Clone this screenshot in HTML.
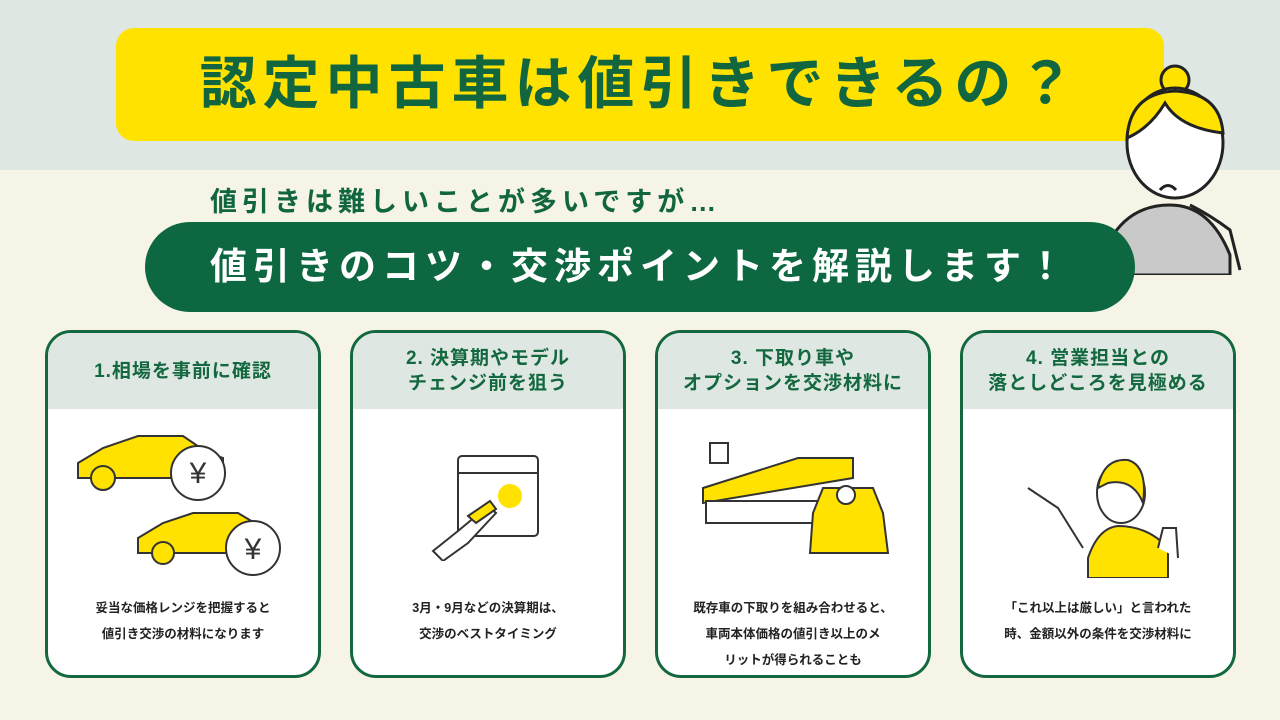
<!DOCTYPE html>
<html><head><meta charset="utf-8"><style>
*{margin:0;padding:0;box-sizing:border-box}
body{width:1280px;height:720px;overflow:hidden;background:#f6f4e7;font-family:"Liberation Sans","Noto Sans CJK JP",sans-serif;position:relative}
.band{position:absolute;left:0;top:0;width:1280px;height:170px;background:#dfe7e3}
.banner{position:absolute;left:116px;top:28px;width:1048px;height:113px;background:#ffe200;border-radius:18px;text-align:center;line-height:113px;font-size:57px;font-weight:bold;color:#12663f;letter-spacing:6px}
.sub{position:absolute;left:210px;top:180px;font-size:27px;font-weight:bold;color:#12663f;letter-spacing:5px}
.pill{position:absolute;left:145px;top:222px;width:990px;height:90px;background:#0d6842;border-radius:45px;text-align:center;line-height:90px;color:#fff;font-size:37px;font-weight:bold;letter-spacing:6px}
.card{position:absolute;top:330px;width:276px;height:348px;border:3px solid #13683f;border-radius:26px;background:#fff;overflow:hidden}
.hd{height:76px;background:#dfe7e3;display:flex;align-items:center;justify-content:center;text-align:center;color:#13683f;font-weight:bold;font-size:19px;line-height:25px;letter-spacing:1px}
.bd{position:absolute;left:0;width:100%;top:262px;text-align:center;font-size:12.5px;line-height:26px;color:#222;font-weight:bold}
svg{position:absolute}
</style></head><body>
<div class="band"></div>
<div class="banner">認定中古車は値引きできるの？</div>
<svg style="left:1090px;top:55px" width="160" height="220" viewBox="0 0 160 220">
<path d="M20 185 Q40 150 80 150 Q120 150 140 200 L140 220 L10 220 Z" fill="#c9c9c9" stroke="#222" stroke-width="3"/>
<circle cx="85" cy="25" r="14" fill="#ffe200" stroke="#222" stroke-width="3"/>
<ellipse cx="85" cy="88" rx="48" ry="55" fill="#fff" stroke="#222" stroke-width="3"/>
<path d="M37 83 Q40 38 85 36 Q130 38 133 78 Q90 73 75 48 Q60 73 37 83Z" fill="#ffe200" stroke="#222" stroke-width="3"/>
<path d="M70 135 Q78 126 86 135" fill="none" stroke="#222" stroke-width="3"/>
<path d="M100 150 Q120 160 140 175 L150 215" fill="none" stroke="#222" stroke-width="3"/>
</svg>
<div class="sub">値引きは難しいことが多いですが…</div>
<div class="pill">値引きのコツ・交渉ポイントを解説します！</div>

<div class="card" style="left:45px"><div class="hd">1.相場を事前に確認</div>
<svg style="left:25px;top:95px" width="230" height="150">
<path d="M5 35 L30 20 L65 8 L110 8 L135 25 L150 30 L150 50 L5 50Z" fill="#ffe200" stroke="#333" stroke-width="2"/>
<circle cx="30" cy="50" r="12" fill="#ffe200" stroke="#333" stroke-width="2"/>
<circle cx="125" cy="45" r="27" fill="#fff" stroke="#333" stroke-width="2"/><text x="125" y="55" text-anchor="middle" font-size="30" fill="#333">¥</text>
<path d="M65 110 L90 95 L120 85 L165 85 L190 100 L200 105 L200 125 L65 125Z" fill="#ffe200" stroke="#333" stroke-width="2"/>
<circle cx="90" cy="125" r="11" fill="#ffe200" stroke="#333" stroke-width="2"/>
<circle cx="180" cy="120" r="27" fill="#fff" stroke="#333" stroke-width="2"/><text x="180" y="131" text-anchor="middle" font-size="30" fill="#333">¥</text>
</svg>
<div class="bd">妥当な価格レンジを把握すると<br>値引き交渉の材料になります</div></div>

<div class="card" style="left:350px"><div class="hd">2. 決算期やモデル<br>チェンジ前を狙う</div>
<svg style="left:75px;top:118px" width="120" height="110">
<rect x="30" y="5" width="80" height="80" rx="4" fill="#fff" stroke="#333" stroke-width="2"/>
<line x1="30" y1="22" x2="110" y2="22" stroke="#333" stroke-width="2"/>
<circle cx="82" cy="45" r="12" fill="#ffe200"/>
<path d="M5 100 L30 80 L60 55 L68 62 L40 92 L15 110Z" fill="#fff" stroke="#333" stroke-width="2"/>
<path d="M40 65 L62 50 L68 58 L48 72Z" fill="#ffe200" stroke="#333" stroke-width="2"/>
</svg>
<div class="bd">3月・9月などの決算期は、<br>交渉のベストタイミング</div></div>

<div class="card" style="left:655px"><div class="hd">3. 下取り車や<br>オプションを交渉材料に</div>
<svg style="left:40px;top:100px" width="210" height="130">
<rect x="12" y="10" width="18" height="20" fill="#fff" stroke="#333" stroke-width="2"/>
<path d="M5 55 L100 25 L155 25 L155 45 L5 70Z" fill="#ffe200" stroke="#333" stroke-width="2"/>
<rect x="8" y="68" width="145" height="22" fill="#fff" stroke="#333" stroke-width="2"/>
<path d="M115 80 L125 55 L175 55 L185 80 L190 120 L112 120Z" fill="#ffe200" stroke="#333" stroke-width="2"/>
<circle cx="148" cy="62" r="9" fill="#fff" stroke="#333" stroke-width="2"/>
</svg>
<div class="bd">既存車の下取りを組み合わせると、<br>車両本体価格の値引き以上のメ<br>リットが得られることも</div></div>

<div class="card" style="left:960px"><div class="hd">4. 営業担当との<br>落としどころを見極める</div>
<svg style="left:55px;top:115px" width="170" height="130">
<path d="M70 110 Q80 80 100 78 Q130 78 150 100 L150 130 L70 130Z" fill="#ffe200" stroke="#333" stroke-width="2"/>
<ellipse cx="103" cy="45" rx="24" ry="30" fill="#fff" stroke="#333" stroke-width="2"/>
<path d="M80 40 Q85 10 110 12 Q130 18 125 55 Q115 30 90 35Z" fill="#ffe200" stroke="#333" stroke-width="2"/>
<path d="M10 40 L40 60 L65 100" fill="none" stroke="#333" stroke-width="2"/>
<path d="M140 100 L145 80 L158 80 L160 110" fill="#fff" stroke="#333" stroke-width="2"/>
</svg>
<div class="bd">「これ以上は厳しい」と言われた<br>時、金額以外の条件を交渉材料に</div></div>
</body></html>
